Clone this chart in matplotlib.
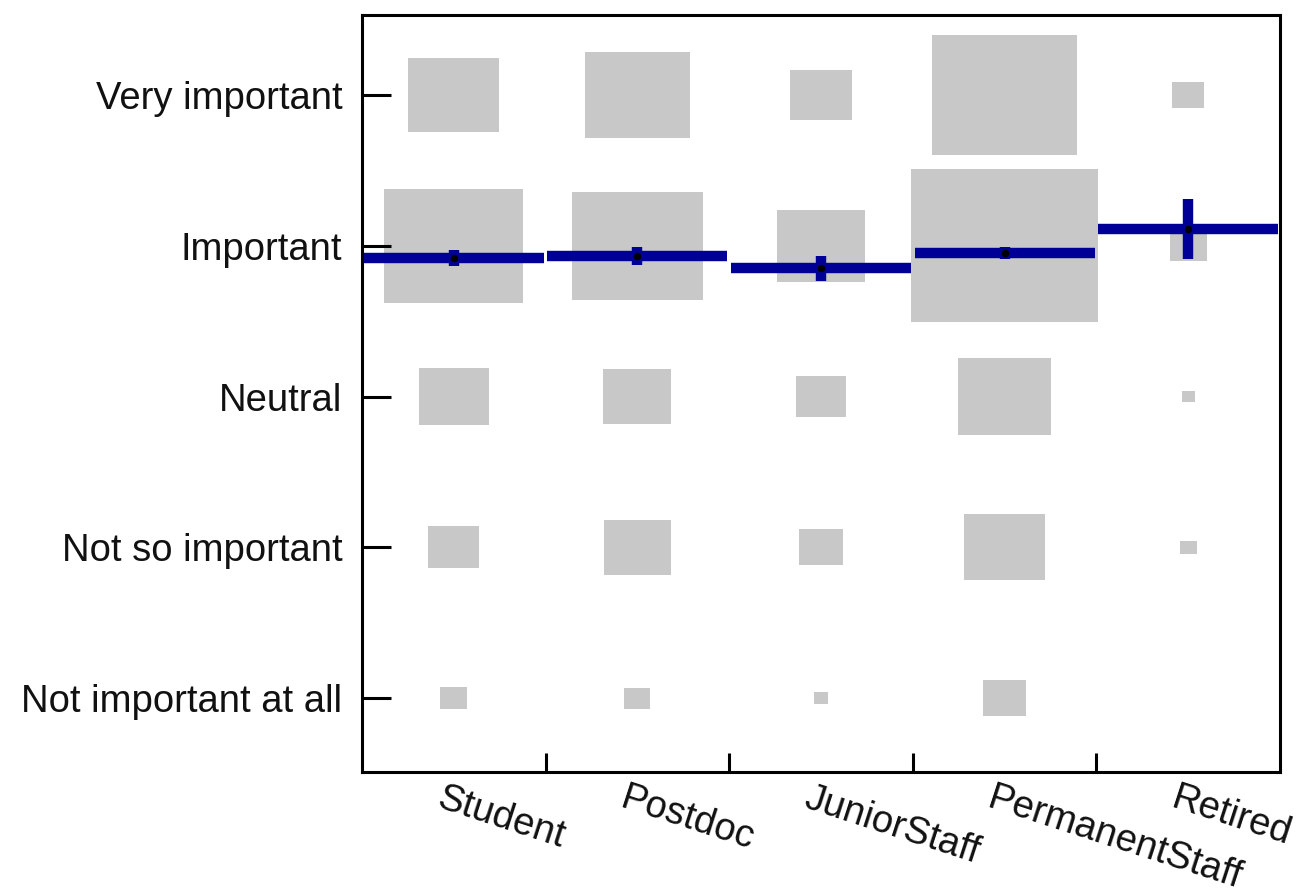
import numpy as np
import matplotlib
matplotlib.use("Agg")
import matplotlib.pyplot as plt
from matplotlib.patches import Rectangle

plt.rcParams['font.family'] = ['Liberation Sans', 'DejaVu Sans']

groups = ['Student', 'Postdoc', 'JuniorStaff', 'PermanentStaff', 'Retired']
levels = ['Not important at all', 'Not so important', 'Neutral',
          'Important', 'Very important']

# box side (data units), rows follow levels order (low -> high)
student = [0.15, 0.28, 0.38, 0.755, 0.495]
postdoc = [0.14, 0.365, 0.37, 0.715, 0.575]
junior = [0.075, 0.237, 0.27, 0.48, 0.335]
permanent = [0.235, 0.44, 0.505, 1.015, 0.79]
retired = [0.0, 0.09, 0.07, 0.2, 0.175]
box_size = [student, postdoc, junior, permanent, retired]

means = [3.92, 3.93, 3.85, 3.95, 4.11]
errs = [0.055, 0.06, 0.085, 0.04, 0.2]

gray = '#c8c8c8'
blue = '#000096'

fig = plt.figure(figsize=(12.97, 8.89), dpi=100)
ax = fig.add_axes([0.279, 0.1316, 0.708, 0.8515])

for i, sizes in enumerate(box_size):
    x = i + 1
    for j, s in enumerate(sizes):
        if s <= 0:
            continue
        y = j + 1
        ax.add_patch(Rectangle((x - s / 2, y - s / 2), s, s,
                               facecolor=gray, edgecolor='none', zorder=1))

for i, (m, e) in enumerate(zip(means, errs)):
    x = i + 1
    ax.plot([x - 0.49, x + 0.49], [m, m], color=blue, lw=7.5,
            solid_capstyle='butt', zorder=3)
    ax.errorbar([x], [m], yerr=[e], fmt='none', ecolor=blue,
                elinewidth=7.5, capsize=0, zorder=4)
    ax.plot([x], [m], 'o', color='black', markersize=4.5, zorder=5)

ax.set_xlim(0.5, 5.5)
ax.set_ylim(0.51, 5.53)

ax.set_yticks(range(1, 6))
ax.set_yticklabels(levels, fontsize=27.5, color='#111111')
ax.tick_params(axis='y', direction='in', length=21, width=2.2, pad=14)

ax.set_xticks(range(1, 6))
ax.set_xticklabels([])
ax.set_xticks([1.5, 2.5, 3.5, 4.5], minor=True)
ax.tick_params(axis='x', which='major', length=0)
ax.tick_params(axis='x', which='minor', direction='in', length=14, width=2.2)

for i, g in enumerate(groups):
    ax.annotate(g, xy=(i + 1, 0), xycoords=('data', 'axes fraction'),
                xytext=(-10, -8), textcoords='offset pixels',
                ha='left', va='top', rotation=-18, rotation_mode='anchor',
                fontsize=27.5, color='#111111')

for sp in ax.spines.values():
    sp.set_linewidth(2.2)

fig.savefig('out.png', dpi=100)
